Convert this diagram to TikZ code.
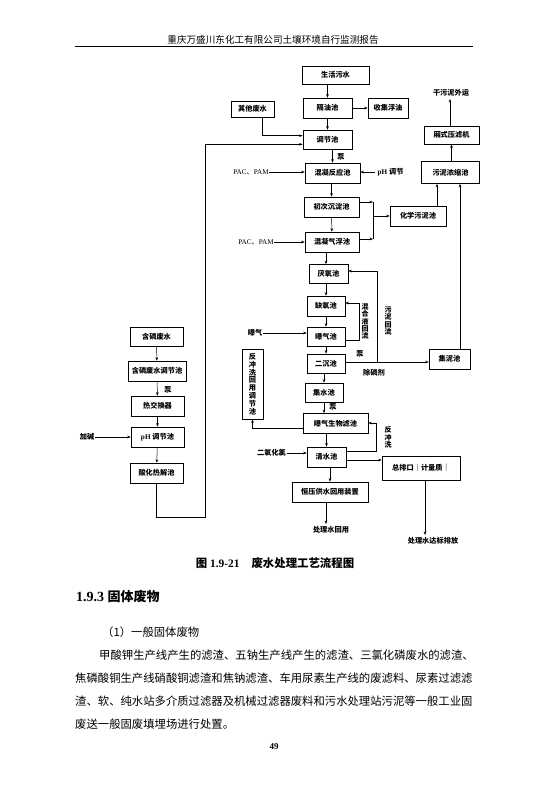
\documentclass[tikz,border=0pt]{standalone}
\usepackage{fontspec}
\setmainfont{Liberation Serif}
\newfontfamily\cjk{Noto Sans CJK SC}
\usetikzlibrary{arrows.meta,calc}
\begin{document}
\begin{tikzpicture}[x=1pt,y=-1pt,
  box/.style={draw, line width=0.6pt, inner sep=0pt, font=\cjk\bfseries\fontsize{7.2}{8}\selectfont},
  vbox/.style={draw, line width=0.6pt, inner sep=0pt, align=center, font=\cjk\bfseries\fontsize{7.2}{7.8}\selectfont},
  lbl/.style={inner sep=0.5pt, font=\cjk\bfseries\fontsize{7.2}{8}\selectfont},
  vlbl/.style={inner sep=0pt, align=center, font=\cjk\bfseries\fontsize{7}{7.4}\selectfont},
  flow/.style={-{Stealth[length=3.5pt,width=2.6pt]}, line width=0.5pt},
  plain/.style={line width=0.5pt},
  body/.style={anchor=west, inner sep=0pt, font=\cjk\fontsize{11.35}{12}\selectfont}]
\fill[white] (0,0) rectangle (541,798);
\useasboundingbox (0,0) rectangle (541,798);

% header
\node[inner sep=0pt, font=\cjk\fontsize{9.6}{10}\selectfont] (hdr) at (273,40) {重庆万盛川东化工有限公司土壤环境自行监测报告};
\coordinate (hl1) at (75,46);
\coordinate (hl2) at (473,46);
\draw[line width=0.8pt] (hl1) -- (hl2);

% main column boxes
\node[box, minimum width=67pt, minimum height=18pt] (shwater) at (335.5,75) {生活污水};
\node[box, minimum width=49pt, minimum height=20pt] (geyou) at (327.5,108) {隔油池};
\node[box, minimum width=40pt, minimum height=20pt] (fuyou) at (388,108) {收集浮油};
\node[box, minimum width=43pt, minimum height=16pt] (qita) at (252.5,109) {其他废水};
\node[box, minimum width=49pt, minimum height=19pt] (tiaojie) at (327.5,139.5) {调节池};
\node[box, minimum width=55pt, minimum height=20pt] (hunning) at (332.5,173) {混凝反应池};
\node[box, minimum width=55pt, minimum height=18pt] (xiangshi) at (451.5,135) {厢式压滤机};
\node[box, minimum width=58pt, minimum height=22pt] (nongsuo) at (450.5,172.5) {污泥浓缩池};
\node[box, minimum width=55pt, minimum height=20pt] (chuci) at (331.5,207) {初次沉淀池};
\node[box, minimum width=54pt, minimum height=20pt] (qifu) at (332,242) {混凝气浮池};
\node[box, minimum width=56pt, minimum height=20pt] (huaxue) at (418,216) {化学污泥池};
\node[box, minimum width=39pt, minimum height=19pt] (yanyang) at (328.5,274) {厌氧池};
\node[box, minimum width=38pt, minimum height=20pt] (queyang) at (326,306) {缺氧池};
\node[box, minimum width=38pt, minimum height=19pt] (baoqi) at (326,336.5) {曝气池};
\node[box, minimum width=38pt, minimum height=19pt] (erchen) at (326,363.5) {二沉池};
\node[box, minimum width=38pt, minimum height=19pt] (jishui) at (324,392.5) {集水池};
\node[box, minimum width=65pt, minimum height=20pt] (shengwu) at (335.5,423.5) {曝气生物滤池};
\node[box, minimum width=39pt, minimum height=20pt] (qingshui) at (326.5,457) {清水池};
\node[box, minimum width=76pt, minimum height=20pt] (hengya) at (330,492) {恒压供水回用装置};
\node[box, minimum width=78pt, minimum height=24pt] (zongpai) at (421,468) {总排口｜计量质｜};
\node[box, minimum width=41pt, minimum height=20pt] (jini) at (449.5,359) {集泥池};
\node[vbox, minimum width=21pt, minimum height=70pt] (fanchong) at (252.5,384) {反\\冲\\洗\\回\\用\\调\\节\\池};

% left column
\node[box, minimum width=53pt, minimum height=19pt] (hanlin) at (156.5,336.5) {含磷废水};
\node[box, minimum width=58pt, minimum height=20pt] (hltj) at (157,371) {含磷废水调节池};
\node[box, minimum width=53pt, minimum height=20pt] (rejiao) at (157.5,406) {热交换器};
\node[box, minimum width=53pt, minimum height=20pt] (phtj) at (157.5,437) {\fontspec{Liberation Serif}pH \cjk 调节池};
\node[box, minimum width=53pt, minimum height=20pt] (suanhua) at (156.5,473) {酸化热解池};

% labels
\node[lbl] (beng1) at (341,157) {泵};
\node[lbl, font=\fontsize{7.2}{8}\selectfont] (pac1) at (251,172) {PAC{\cjk 、}PAM};
\node[lbl, anchor=west] (phl) at (377,172) {\fontspec{Liberation Serif}pH \cjk 调节};
\node[lbl] (gan) at (451,93) {干污泥外运};
\node[lbl, font=\fontsize{7.2}{8}\selectfont] (pac2) at (256,242) {PAC{\cjk 、}PAM};
\node[lbl] (bql) at (255,333) {曝气};
\node[lbl] (beng2) at (360,354) {泵};
\node[lbl] (chulin) at (374,373) {除磷剂};
\node[lbl] (beng3) at (333,407) {泵};
\node[lbl] (eryang) at (271.5,453) {二氧化氯};
\node[lbl] (jiajian) at (87,437) {加碱};
\node[lbl] (beng4) at (168,390) {泵};
\node[lbl] (huiyong) at (331,530) {处理水回用};
\node[lbl] (paifang) at (433,541) {处理水达标排放};
\node[vlbl] (hhy) at (365,321.5) {混\\合\\液\\回\\流};
\node[vlbl] (wnhl) at (388,321) {污\\泥\\回\\流};
\node[vlbl] (fcx) at (388,437.5) {反\\冲\\洗};

% coordinates
\coordinate (q1) at (262,135.7);
\coordinate (q2) at (262,144.3);
\coordinate (lp1) at (205,517);
\coordinate (lp2) at (205,144.3);
\coordinate (bus1) at (373,202);
\coordinate (bus2) at (373,239);
\coordinate (hx) at (437,0);
\coordinate (jx) at (460,0);
\coordinate (m1) at (359,340);
\coordinate (m2) at (359,303);
\coordinate (s1) at (377,362);
\coordinate (s2) at (377,271);
\coordinate (b1) at (252.5,428);
\coordinate (r1) at (376,451);
\coordinate (r2) at (376,423);
\coordinate (e1) at (377,460);
\coordinate (z1) at (425,535);
\coordinate (z0) at (425,480);
\coordinate (hy) at (326,524);
\coordinate (gy) at (450,99);

% main flow
\draw[flow] (shwater.south -| geyou.north) -- (geyou.north);
\draw[flow] (geyou.east) -- (fuyou.west);
\draw[flow] (geyou) -- (tiaojie);
\draw[plain] (qita.south -| q1) -- (q1);
\draw[flow] (q1) -- (q1 -| tiaojie.west);
\draw[plain] (suanhua.south) |- (lp1) -- (lp2);
\draw[flow] (lp2) -- (lp2 -| tiaojie.west);
\draw[flow] (tiaojie.south -| hunning.north) -- (hunning.north);
\draw[flow] (pac1.east) -- (pac1.east -| hunning.west);
\draw[flow] ([xshift=-2pt]phl.west) -- (phl.west -| hunning.east);
\draw[flow] (hunning.south -| chuci.north) -- (chuci.north);
\draw[flow] (chuci) -- (qifu);
\draw[flow] (bus1 -| chuci.east) -- (bus1);
\draw[flow] (bus2 -| qifu.east) -- (bus2);
\draw[plain] (bus1) -- (bus2);
\draw[flow] (bus1 |- huaxue.west) -- (huaxue.west);
\draw[flow] (huaxue.north -| hx) -- (nongsuo.south -| hx);
\draw[flow] (jini.north -| jx) -- (nongsuo.south -| jx);
\draw[flow] (nongsuo.north -| xiangshi.south) -- (xiangshi.south);
\draw[flow] (xiangshi.north -| gy) -- (gy);
\draw[flow] (pac2.east) -- (pac2.east -| qifu.west);
\draw[flow] (qifu.south -| 326,0) -- (yanyang.north -| 326,0);
\draw[flow] (yanyang.south -| queyang.north) -- (queyang.north);
\draw[flow] (queyang) -- (baoqi);
\draw[flow] (bql.east) -- (bql.east -| baoqi.west);
\draw[flow] (m1 -| baoqi.east) -- (m1) -- (m2) -- (m2 -| queyang.east);
\draw[flow] (baoqi) -- (erchen);
\draw[flow] (s1 -| erchen.east) -- (s1 -| jini.west);
\draw[flow] (s1) -- (s2) -- (s2 -| yanyang.east);
\draw[flow] (erchen.south -| jishui.north) -- (jishui.north);
\draw[flow] (jishui.south) -- (jishui.south |- shengwu.north);
\draw[flow] (b1 -| shengwu.west) -- (b1) -- (fanchong.south);
\draw[flow] (shengwu.south -| qingshui.north) -- (qingshui.north);
\draw[flow] (eryang.east) -- (eryang.east -| qingshui.west);
\draw[flow] (r1 -| qingshui.east) -- (r1) -- (r2) -- (r2 -| shengwu.east);
\draw[flow] (e1 -| qingshui.east) -- (e1 -| zongpai.west);
\draw[flow] (qingshui.south -| hengya.north) -- (hengya.north);
\draw[flow] (hengya.south -| hy) -- (hy);
\draw[flow] (z0) -- (z1);

% left column flow
\draw[flow] (hanlin) -- (hltj);
\draw[flow] (hltj) -- (rejiao);
\draw[flow] (rejiao) -- (phtj);
\draw[flow] (jiajian.east) -- (jiajian.east -| phtj.west);
\draw[flow] (phtj) -- (suanhua);

% caption and text
\node[inner sep=0pt, font=\bfseries\fontsize{11.4}{12}\selectfont] (cap) at (275,563) {{\cjk 图} 1.9-21\hspace{12pt}{\cjk 废水处理工艺流程图}};
\node[anchor=west, inner sep=0pt, font=\bfseries\fontsize{14}{15}\selectfont] (sec) at (76,597) {1.9.3 {\cjk\fontsize{13}{14}\selectfont 固体废物}};
\node[body] (p0) at (102,632) {（1）一般固体废物};
\node[body] (p1) at (99,655) {甲酸钾生产线产生的滤渣、五钠生产线产生的滤渣、三氯化磷废水的滤渣、};
\node[body] (p2) at (75,678) {焦磷酸铜生产线硝酸铜滤渣和焦钠滤渣、车用尿素生产线的废滤料、尿素过滤滤};
\node[body] (p3) at (75,701) {渣、软、纯水站多介质过滤器及机械过滤器废料和污水处理站污泥等一般工业固};
\node[body] (p4) at (75,724) {废送一般固废填埋场进行处置。};
\node[inner sep=0pt, font=\bfseries\fontsize{9}{10}\selectfont] (pg) at (274,747) {49};
\end{tikzpicture}
\end{document}
